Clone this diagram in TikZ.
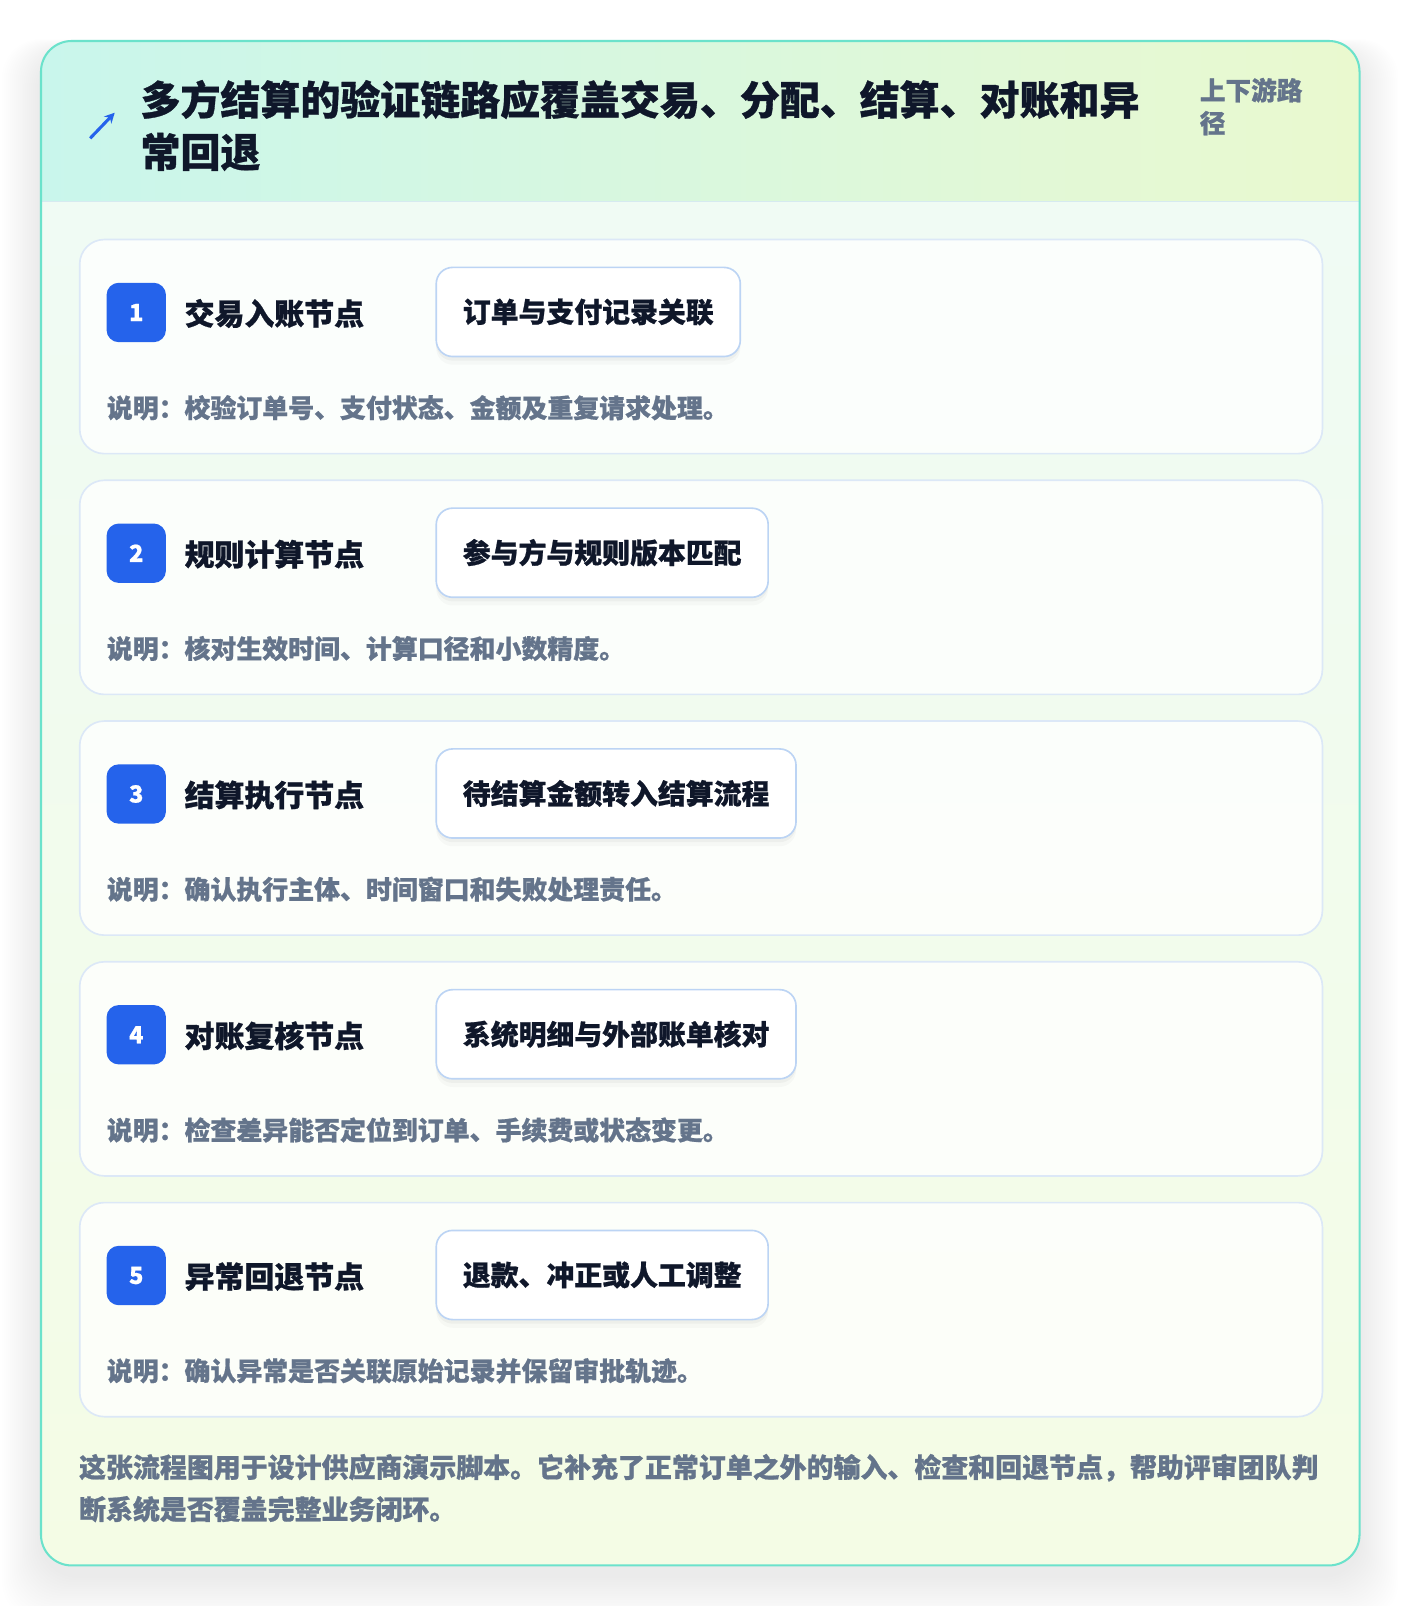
\documentclass[tikz,border=0pt]{standalone}
\usepackage{fontspec}
\setmainfont{Noto Sans CJK SC}[BoldFeatures={FakeBold=0.8}]
\usetikzlibrary{shadows,arrows.meta}
\definecolor{ink}{HTML}{0F172A}
\definecolor{muted}{HTML}{64748B}
\definecolor{badgeblue}{HTML}{2563EB}
\definecolor{tealline}{HTML}{6BE2CB}
\definecolor{hdL}{HTML}{C9F6EC}
\definecolor{hdR}{HTML}{EAF9CF}
\definecolor{bdT}{HTML}{EFFBF6}
\definecolor{bdB}{HTML}{F4FCE5}
\definecolor{cardline}{HTML}{DCE8F7}
\definecolor{pillline}{HTML}{BCD4F4}
\definecolor{sepline}{HTML}{D6EAF0}
\begin{document}
\begin{tikzpicture}[x=1pt,y=-1pt,
  card/.style={draw=cardline, line width=1.6pt, rounded corners=24pt, fill=white, fill opacity=0.78, text opacity=1,
     minimum width=1213pt, minimum height=209pt, anchor=north west, inner sep=0pt},
  badge/.style={fill=badgeblue, rounded corners=12pt, minimum size=58pt, inner sep=0pt, text=white,
     font=\bfseries\fontsize{23}{26}\selectfont},
  steptitle/.style={anchor=west, inner sep=0pt, text=ink, font=\bfseries\fontsize{29.2}{34}\selectfont},
  pill/.style={anchor=west, draw=pillline, line width=1.6pt, fill=white, rounded corners=16pt,
     minimum height=87pt, inner xsep=26pt, inner ysep=0pt, text=ink, font=\bfseries\fontsize{27.2}{32}\selectfont,
     drop shadow={shadow xshift=0pt, shadow yshift=-4pt, opacity=0.035, fill=black},
     drop shadow={shadow xshift=0pt, shadow yshift=-8pt, opacity=0.025, fill=black}},
  desc/.style={anchor=west, inner sep=0pt, text=muted, font=\bfseries\fontsize{25.3}{30}\selectfont}]
\fill[white] (0,0) rectangle (1400,1606);
\begin{scope}[overlay, transform canvas={scale=1.0245}]
% soft shadow of the main card
\foreach \i in {1,...,20} {
  \fill[black, opacity=0.004, rounded corners=38pt] (40-1.9*\i, 50-0.6*\i) rectangle (1327+1.9*\i, 1538+2.2*\i);
}
% body
\shade[top color=bdT, bottom color=bdB, rounded corners=30pt] (40,40) rectangle (1327,1528);
% header
\begin{scope}
  \clip[rounded corners=30pt] (40,40) rectangle (1327,1528);
  \shade[left color=hdL, right color=hdR] (40,40) rectangle (1327,196);
\end{scope}
\draw[sepline, line width=1.5pt] (41,196.5) -- (1326,196.5);
\draw[tealline, line width=2pt, rounded corners=30pt] (40,40) rectangle (1327,1528);
% icon
\coordinate (ia) at (88,135);
\coordinate (ib) at (112,110);
\draw[badgeblue, line width=3pt, -{Stealth[length=10pt,width=10pt]}] (ia) -- (ib);
% title
\node[anchor=west, align=left, inner sep=0pt, text=ink, font=\bfseries\fontsize{39}{51}\selectfont] (ttl) at (137,122.5)
  {多方结算的验证链路应覆盖交易、分配、结算、对账和异\\常回退};
\node[anchor=west, align=left, inner sep=0pt, text=muted, font=\bfseries\fontsize{25}{32}\selectfont] (side) at (1171,104)
  {上下游路\\径};
% steps
\foreach \n/\t/\ttl/\pl/\ds in {
  1/233/交易入账节点/订单与支付记录关联/说明：校验订单号、支付状态、金额及重复请求处理。,
  2/468/规则计算节点/参与方与规则版本匹配/说明：核对生效时间、计算口径和小数精度。,
  3/703/结算执行节点/待结算金额转入结算流程/说明：确认执行主体、时间窗口和失败处理责任。,
  4/938/对账复核节点/系统明细与外部账单核对/说明：检查差异能否定位到订单、手续费或状态变更。,
  5/1173/异常回退节点/退款、冲正或人工调整/说明：确认异常是否关联原始记录并保留审批轨迹。}
{
  \node[card] (c\n) at (77,\t) {};
  \node[badge] (b\n) at (133,\t+72) {\n};
  \node[steptitle] (s\n) at (180,\t+73) {\ttl};
  \node[pill] (p\n) at (425,\t+71.5) {\pl};
  \node[desc] (d\n) at (104,\t+165) {\ds};
}
% footer
\node[anchor=west, align=left, inner sep=0pt, text=muted, font=\bfseries\fontsize{26.3}{41}\selectfont] (ftr) at (77,1452.5)
  {这张流程图用于设计供应商演示脚本。它补充了正常订单之外的输入、检查和回退节点，帮助评审团队判\\断系统是否覆盖完整业务闭环。};
\end{scope}
\end{tikzpicture}
\end{document}
